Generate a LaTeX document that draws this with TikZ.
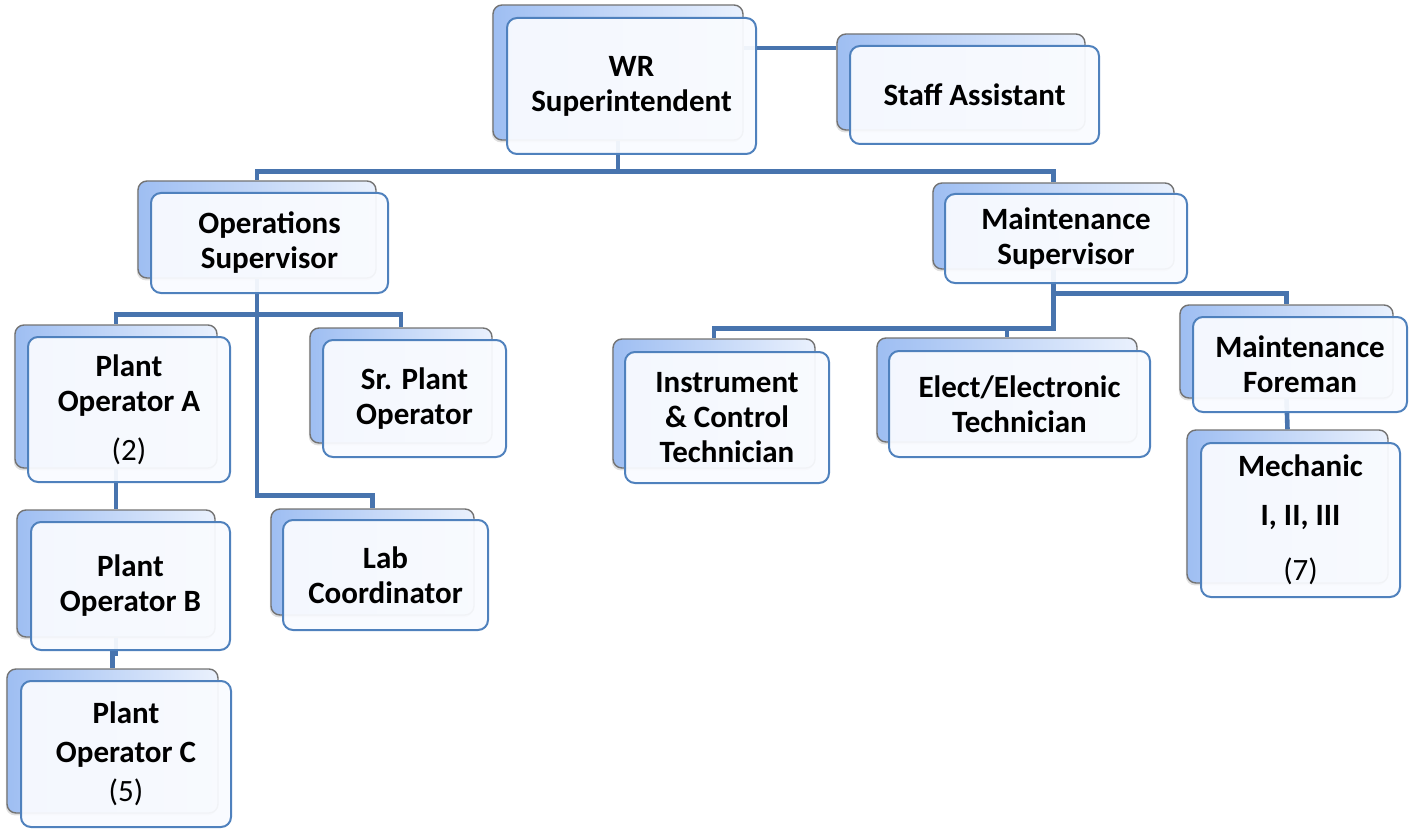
\documentclass[tikz,border=0pt]{standalone}
\usepackage{fontspec}
\setmainfont{Carlito}
\usetikzlibrary{shadows}

\definecolor{linkblue}{RGB}{72,116,174}
\definecolor{frameblue}{RGB}{79,129,189}
\definecolor{backblue}{RGB}{158,190,242}
\definecolor{backlight}{RGB}{234,241,253}
\definecolor{frontfill}{RGB}{249,251,255}

\begin{document}
\begin{tikzpicture}[x=0.5pt,y=-0.5pt]
\tikzset{backcard/.style={draw=black!55, line width=0.7pt, rounded corners=4.5pt,
    left color=backblue, right color=backlight,
    drop shadow={shadow xshift=-0.6pt, shadow yshift=-1.2pt, opacity=0.25}},
  frontcard/.style={draw=frameblue, line width=1pt, rounded corners=5pt,
    fill=frontfill, fill opacity=0.94, text opacity=1, inner sep=1pt,
    align=center, font=\fontsize{15.5}{17.5}\selectfont\bfseries},
  link/.style={draw=linkblue, line width=2.3pt}}
\useasboundingbox (0,0) rectangle (1409,829);

% cards behind
\node[backcard, minimum width=125pt, minimum height=67.5pt] (wrb) at (618,72.5) {};
\node[backcard, minimum width=124pt, minimum height=48pt] (staffb) at (961,82) {};
\node[backcard, minimum width=119pt, minimum height=48.5pt] (opsb) at (257,229.5) {};
\node[backcard, minimum width=120.5pt, minimum height=43pt] (maintb) at (1053.5,226) {};
\node[backcard, minimum width=101pt, minimum height=71.5pt] (opab) at (116,396.5) {};
\node[backcard, minimum width=91pt, minimum height=57.5pt] (srb) at (401,385.5) {};
\node[backcard, minimum width=101.5pt, minimum height=53pt] (labb) at (372.5,562) {};
\node[backcard, minimum width=99pt, minimum height=63.5pt] (opbb) at (116,573.5) {};
\node[backcard, minimum width=105.5pt, minimum height=72pt] (opcb) at (112.5,741) {};
\node[backcard, minimum width=101pt, minimum height=64.5pt] (ictb) at (714,403.5) {};
\node[backcard, minimum width=130pt, minimum height=52pt] (eetb) at (1007,390) {};
\node[backcard, minimum width=106.5pt, minimum height=46.5pt] (foremanb) at (1286.5,351.5) {};
\node[backcard, minimum width=100.5pt, minimum height=76.5pt] (mechb) at (1287.5,506.5) {};

% reporting lines
\draw[link] (wrb.east |- 0,48) -- (staffb.west |- 0,48);
\draw[link] (wrb.south) -- ++(0,31) -| (opsb.north);
\draw[link] (wrb.south) -- ++(0,31) -| (maintb.north);
\draw[link] (opsb.south) -- ++(0,36) -| (opab.north);
\draw[link] (opsb.south) -- ++(0,36) -| (srb.north);
\draw[link] (opsb.south) -- ++(0,217) -| (labb.north);
\draw[link] (opab.south) -- (opbb.north);
\draw[link] (opbb.south) -- ++(0,16) -| (opcb.north);
\draw[link] (maintb.south) -- ++(0,59) -| (ictb.north);
\draw[link] (maintb.south) -- ++(0,59) -| (eetb.north);
\draw[link] (maintb.south) -- ++(0,24) -| (foremanb.north);
\draw[link] (foremanb.south) -- (mechb.north);

% cards in front
\node[frontcard, minimum width=124.5pt, minimum height=68pt] (wr) at (631.5,86) {WR\\Superintendent};
\node[frontcard, minimum width=124.5pt, minimum height=49pt] (staff) at (974.5,95) {Staff Assistant};
\node[frontcard, minimum width=118.5pt, minimum height=50pt] (ops) at (269.5,243) {Operations\\Supervisor};
\node[frontcard, minimum width=121pt, minimum height=44.5pt] (maint) at (1066,238.5) {Maintenance\\Supervisor};
\node[frontcard, minimum width=101pt, minimum height=72.5pt] (opa) at (129,409.5) {Plant\\Operator A\\[7pt]{\mdseries (2)}};
\node[frontcard, minimum width=91.5pt, minimum height=58.5pt] (sr) at (414.5,398.5) {Sr. Plant\\Operator};
\node[frontcard, minimum width=102.5pt, minimum height=55pt] (lab) at (385.5,575) {Lab\\Coordinator};
\node[frontcard, minimum width=99.5pt, minimum height=64pt] (opb) at (130.5,586) {Plant\\Operator B};
\node[frontcard, minimum width=105pt, minimum height=73pt] (opc) at (126,754) {Plant\\[2pt]Operator C\\[2pt]{\mdseries (5)}};
\node[frontcard, minimum width=102pt, minimum height=65.5pt] (ict) at (727,417.5) {Instrument\\\& Control\\Technician};
\node[frontcard, minimum width=130.5pt, minimum height=53pt] (eet) at (1019.5,404) {Elect/Electronic\\Technician};
\node[frontcard, minimum width=107pt, minimum height=47.5pt] (foreman) at (1300,364.5) {Maintenance\\Foreman};
\node[frontcard, minimum width=99.5pt, minimum height=77pt] (mech) at (1300.5,520) {Mechanic\\[7pt]I, II, III\\[10pt]{\mdseries (7)}};
\end{tikzpicture}
\end{document}
